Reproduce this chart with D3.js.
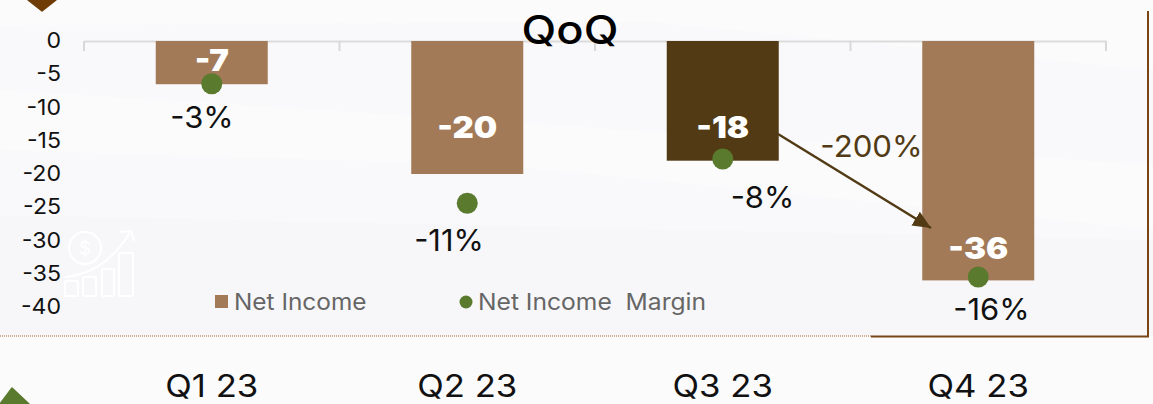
<!DOCTYPE html>
<html><head><meta charset="utf-8">
<script src="https://cdn.jsdelivr.net/npm/d3@7"></script>
<style>html,body{margin:0;padding:0;background:#fbfbfc;overflow:hidden}svg{display:block}text{font-family:Inter,"Open Sans",sans-serif}</style>
</head><body><svg id="c" width="1153" height="404"></svg>
<script>
const categories = ["Q1 23","Q2 23","Q3 23","Q4 23"];
const netIncome = [-6.5,-20,-18,-36];
const netIncomeLabels = ["-7","-20","-18","-36"];
const margin = [-2.9,-11,-8,-16];
const marginLabels = ["-3%","-11%","-8%","-16%"];
const yTicks = [0,-5,-10,-15,-20,-25,-30,-35,-40];
const legendNames = ["Net Income","Net Income  Margin"];
const changeLabel = "-200%";
const titleText = "QoQ";

const svg = d3.select("#c");
const x = d3.scaleBand().domain(categories).range([84,1106]);
const y = d3.scaleLinear().domain([0,-40]).range([41,307]);
const y2 = d3.scaleLinear().domain([0,-16]).range([41,277]);
const cx = d => x(d)+x.bandwidth()/2;
const barW = 112;
// widen text horizontally: the reference face is an extended geometric sans
function stretch(sel,f){sel.each(function(){const n=this;n.setAttribute("textLength",n.getComputedTextLength()*f);n.setAttribute("lengthAdjust","spacingAndGlyphs");});return sel;}

// background washes
const bg = svg.append("g");
bg.append("rect").attr("width",1153).attr("height",404).attr("fill","#fbfbfc");
bg.append("path").attr("d","M0 25 L650 22 L1153 70 L1153 336 L0 336 Z").attr("fill","#f9f9fb");
bg.append("path").attr("d","M0 90 L400 115 L1153 165 L1153 230 L500 165 L0 150 Z").attr("fill","#fbfbfc");
bg.append("path").attr("d","M0 215 L1153 240 L1153 336 L0 336 Z").attr("fill","#f7f7fa");

// corner shapes and frame
svg.append("path").attr("d","M28 0 L42 11 L56 0 Z").attr("fill","#6f3c06").attr("stroke","#6f3c06").attr("stroke-width",1.5).attr("stroke-linejoin","round");
svg.append("path").attr("d","M0 404 L12 388 L29 404 Z").attr("fill","#5a7a2e").attr("stroke","#5a7a2e").attr("stroke-width",1.5).attr("stroke-linejoin","round");
svg.append("line").attr("x1",0).attr("x2",871).attr("y1",336).attr("y2",336).attr("stroke","#a8622c").attr("stroke-width",1).attr("stroke-dasharray","1 1");
svg.append("path").attr("d","M871 336.5 H1148 V11").attr("fill","none").attr("stroke","#7a4514").attr("stroke-width",2);

// watermark icon
const ic = svg.append("g").attr("fill","none").attr("stroke","#ffffff").attr("stroke-width",2);
ic.append("circle").attr("cx",85).attr("cy",248).attr("r",16);
ic.append("text").attr("x",85).attr("y",255).attr("text-anchor","middle").attr("font-size",19).attr("fill","#ffffff").attr("stroke","none").text("$");
[[65,281,13,15],[83,277,13,19],[102,269,12,27],[119,253,14,43]].forEach(r=>ic.append("rect").attr("x",r[0]).attr("y",r[1]).attr("width",r[2]).attr("height",r[3]).attr("rx",1));
ic.append("path").attr("d","M65 277 C95 274 115 258 130 232 M119 232 L131 231 L134 241");

// axis
const axG = svg.append("g").attr("transform","translate(0,41)");
axG.call(d3.axisBottom(x).tickSize(0).tickFormat(""));
axG.select(".domain").attr("stroke","#dcdcdc").attr("stroke-width",2);
axG.selectAll(".sep").data(d3.range(5)).join("line").attr("class","sep")
  .attr("x1",i=>84+i*x.bandwidth()).attr("x2",i=>84+i*x.bandwidth()).attr("y1",0).attr("y2",10)
  .attr("stroke","#d8d8d8").attr("stroke-width",2);

const yAx = svg.append("g").attr("transform","translate(61,0)").call(d3.axisLeft(y).tickValues(yTicks).tickSize(0).tickPadding(0).tickFormat(d=>d));
yAx.select(".domain").remove();
yAx.selectAll("text").attr("font-size",22).attr("fill","#111").attr("dy","0.3em").attr("x",0);
stretch(yAx.selectAll("text"),1.05);

// bars
svg.append("g").selectAll("rect").data(categories).join("rect")
  .attr("x",d=>cx(d)-barW/2).attr("y",y(0)).attr("width",barW)
  .attr("height",(d,i)=>y(netIncome[i])-y(0))
  .attr("fill",(d,i)=>i===2?"#523b14":"#a27a58");

// bar labels
const barLabelY=[71,138,138,259];
stretch(svg.append("g").selectAll("text").data(categories).join("text")
  .attr("x",cx).attr("y",(d,i)=>barLabelY[i])
  .attr("text-anchor","middle").attr("font-size",30).attr("font-weight",900).attr("fill","#fff")
  .text((d,i)=>netIncomeLabels[i]),1.1);

// arrow
svg.append("defs").append("marker").attr("id","ah").attr("markerUnits","userSpaceOnUse").attr("markerWidth",20).attr("markerHeight",18)
  .attr("refX",18).attr("refY",8).attr("orient","auto").append("path").attr("d","M0 0 L18 8 L0 16 Z").attr("fill","#523b14");
svg.append("line").attr("x1",778).attr("y1",134).attr("x2",931).attr("y2",228).attr("stroke","#523b14").attr("stroke-width",2.5).attr("marker-end","url(#ah)");
stretch(svg.append("text").attr("x",871.5).attr("y",157).attr("text-anchor","middle").attr("font-size",30).attr("fill","#523b14").text(changeLabel),1.04);

// margin dots
svg.append("g").selectAll("circle").data(categories).join("circle")
  .attr("cx",cx).attr("cy",(d,i)=>y2(margin[i])).attr("r",10.5).attr("fill","#5a7a2e");

const dotLabelPos=[[202,128],[449,251],[762.5,208],[991.5,320]];
stretch(svg.append("g").selectAll("text").data(categories).join("text")
  .attr("x",(d,i)=>dotLabelPos[i][0]).attr("y",(d,i)=>dotLabelPos[i][1])
  .attr("text-anchor","middle").attr("font-size",30).attr("fill","#111")
  .text((d,i)=>marginLabels[i]),1.03);

// category labels
stretch(svg.append("g").selectAll("text").data(categories).join("text")
  .attr("x",cx).attr("y",397).attr("text-anchor","middle").attr("font-size",31).attr("fill","#111").text(d=>d),1.12);

// title
stretch(svg.append("text").attr("x",570).attr("y",44).attr("text-anchor","middle").attr("font-size",40).attr("font-weight",500).attr("fill","#000").text(titleText),1.13);

// legend
svg.append("rect").attr("x",215).attr("y",295).attr("width",13).attr("height",13).attr("fill","#a27a58");
stretch(svg.append("text").attr("x",234).attr("y",310).attr("font-size",23).attr("fill","#666").text(legendNames[0]),1.06);
svg.append("circle").attr("cx",466).attr("cy",302).attr("r",6.5).attr("fill","#5a7a2e");
stretch(svg.append("text").attr("x",478).attr("y",310).attr("font-size",23).attr("fill","#666").style("white-space","pre").text(legendNames[1]),1.07);
</script></body></html>
